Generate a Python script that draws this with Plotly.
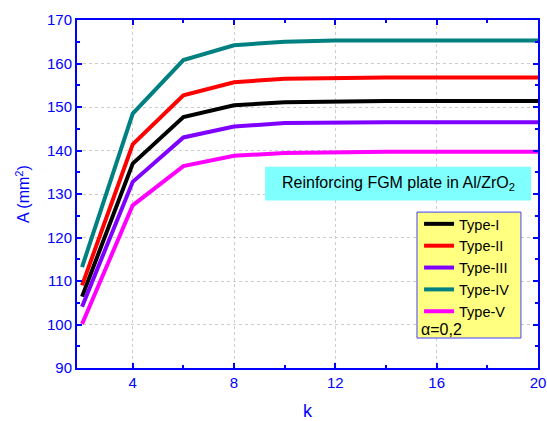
import plotly.graph_objects as go

k = [2, 4, 6, 8, 10, 12, 14, 16, 18, 20]
type_I = [106.4, 137.0, 147.7, 150.4, 151.1, 151.3, 151.4, 151.4, 151.4, 151.4]
type_II = [109.0, 141.4, 152.7, 155.7, 156.5, 156.7, 156.8, 156.8, 156.8, 156.8]
type_III = [104.1, 132.8, 143.0, 145.5, 146.3, 146.5, 146.5, 146.5, 146.5, 146.5]
type_IV = [113.2, 148.5, 160.8, 164.2, 165.0, 165.3, 165.3, 165.3, 165.3, 165.3]
type_V = [100.1, 127.4, 136.4, 138.8, 139.4, 139.6, 139.7, 139.7, 139.7, 139.7]

names = ["Type-I", "Type-II", "Type-III", "Type-IV", "Type-V"]
series = [type_I, type_II, type_III, type_IV, type_V]
colors = ["#000000", "#FF0000", "#7F00FF", "#008080", "#FF00FF"]

BLUE = "#0000FF"
FONT = "Liberation Sans, Arial, sans-serif"

fig = go.Figure()
for n, s, c in zip(names, series, colors):
    fig.add_trace(go.Scatter(x=k, y=s, mode="lines", name=n,
                             line=dict(color=c, width=4)))

axis_common = dict(
    showline=True, linecolor=BLUE, linewidth=2, mirror="allticks",
    ticks="inside", ticklen=5, tickwidth=1.5, tickcolor=BLUE,
    tickfont=dict(family=FONT, size=15, color=BLUE),
    showgrid=True, gridcolor="#CCCCCC", griddash="3px,3px", gridwidth=1,
    zeroline=False, automargin=False,
)

fig.update_xaxes(
    range=[1.8, 20], tickmode="array", tickvals=[4, 8, 12, 16, 20],
    minor=dict(tickmode="array", tickvals=[6, 10, 14, 18], ticks="inside",
               ticklen=3, tickcolor=BLUE, showgrid=False),
    title=dict(text="k", font=dict(family=FONT, size=18, color=BLUE), standoff=14),
    **axis_common,
)
fig.update_yaxes(
    range=[90, 170], tickmode="linear", tick0=90, dtick=10,
    minor=dict(dtick=5, ticks="inside", ticklen=3, tickcolor=BLUE, showgrid=False),
    title=dict(text="A (mm<sup>2</sup>)", font=dict(family=FONT, size=16, color=BLUE), standoff=13),
    **axis_common,
)

# annotation box
fig.add_shape(type="rect", xref="paper", yref="paper",
              x0=0.408, x1=0.985, y0=0.481, y1=0.578,
              fillcolor="#80FFFF", line=dict(width=0), layer="above")
fig.add_annotation(xref="paper", yref="paper", x=0.698, y=0.529,
                   xanchor="center", yanchor="middle",
                   text="Reinforcing FGM plate in Al/ZrO<sub>2</sub>",
                   showarrow=False, font=dict(family=FONT, size=16, color="#000000"))

# legend box
fig.add_shape(type="rect", xref="paper", yref="paper",
              x0=0.7375, x1=0.963, y0=0.0862, y1=0.448,
              fillcolor="#FFFF80", line=dict(color="#4040FF", width=1), layer="above")
fig.add_annotation(xref="paper", yref="paper", x=0.742, y=0.112,
                   xanchor="left", yanchor="middle",
                   text="α=0,2", showarrow=False,
                   font=dict(family=FONT, size=16, color="#000000"))

fig.update_layout(
    width=547, height=421,
    margin=dict(l=77, r=9, t=20, b=53, autoexpand=False),
    plot_bgcolor="white", paper_bgcolor="white",
    font=dict(family=FONT),
    legend=dict(x=0.742, y=0.460, xanchor="left", yanchor="top",
                bgcolor="rgba(0,0,0,0)", borderwidth=0,
                font=dict(family=FONT, size=14.5, color="#000000"),
                tracegroupgap=0, itemwidth=30),
    showlegend=True,
)

fig.write_html("out.html", config={"displayModeBar": False},
               post_script="document.body.style.margin='0';document.body.style.padding='0';")
